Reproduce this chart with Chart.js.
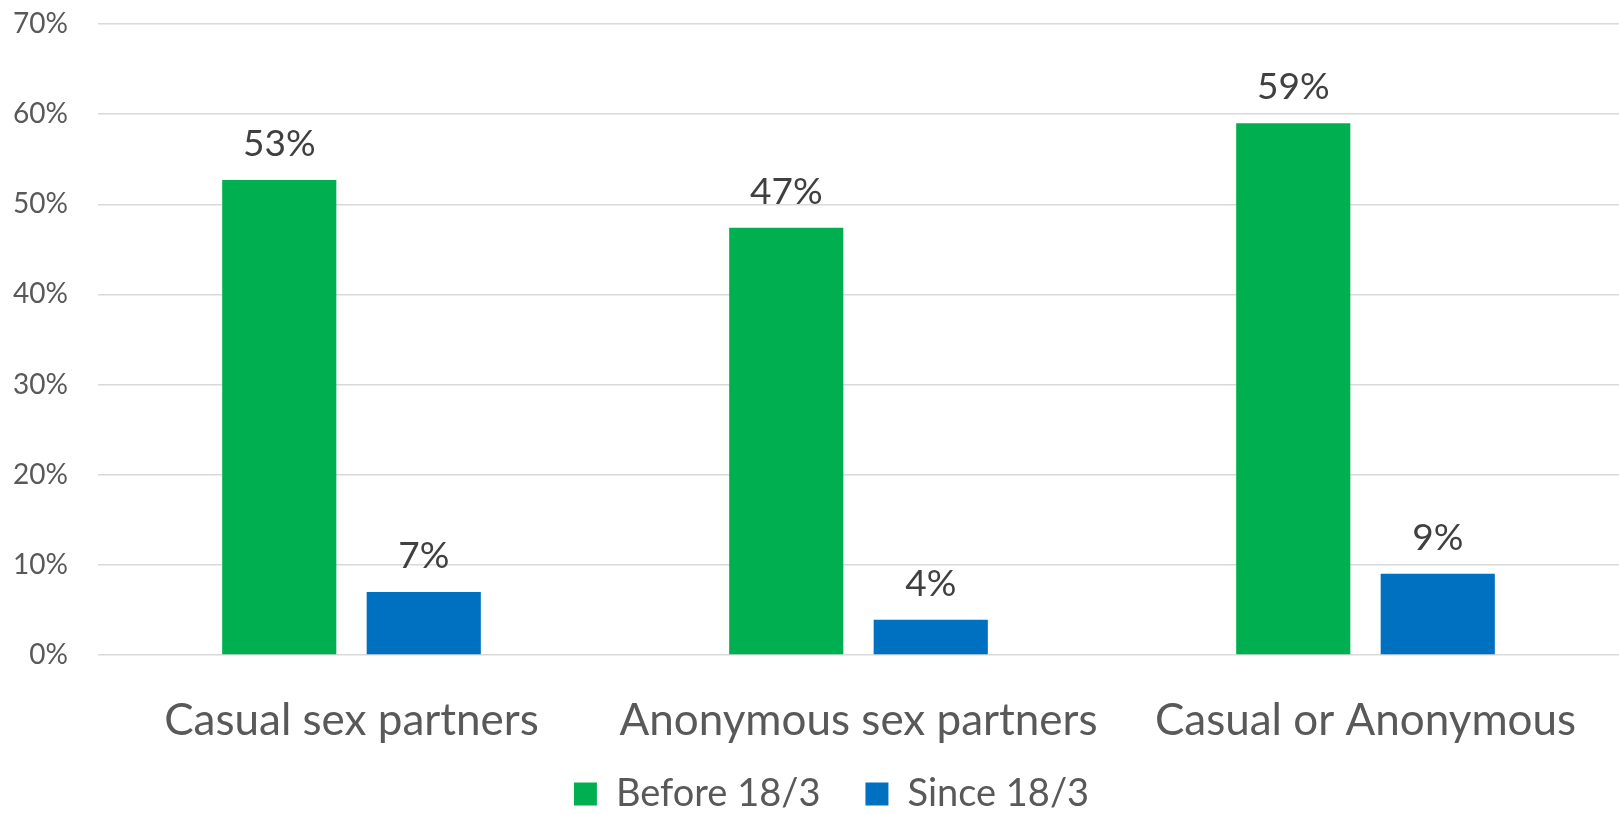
<!DOCTYPE html>
<html lang="en">
  <head>
    <meta charset="UTF-8" />
    <title>Casual and anonymous sex partners</title>
    <script src="https://cdn.jsdelivr.net/npm/chart.js"></script>
    <style>
      body { margin: 0; background: #fff; }
      #wrap { width: 1619px; height: 814px; position: relative; }
    </style>
  </head>
  <body>
    <div id="wrap"><canvas id="myChart"></canvas></div>

    <script>
      const categories = ["Casual sex partners", "Anonymous sex partners", "Casual or Anonymous"];
      const seriesNames = ["Before 18/3", "Since 18/3"];
      const beforeValues = [52.7, 47.4, 59.0];
      const sinceValues = [7.0, 3.9, 9.0];
      const yTicks = [0, 10, 20, 30, 40, 50, 60, 70];

      const font = "Lato";

      // value labels above each bar, placed from the bar elements
      const barLabels = {
        id: "barLabels",
        afterDatasetsDraw(chart) {
          const ctx = chart.ctx;
          ctx.save();
          ctx.font = "37px " + font;
          ctx.fillStyle = "#404040";
          ctx.textAlign = "center";
          ctx.textBaseline = "alphabetic";
          chart.data.datasets.forEach((ds, i) => {
            chart.getDatasetMeta(i).data.forEach((bar, j) => {
              ctx.fillText(Math.round(ds.data[j]) + "%", bar.x, bar.y - 24);
            });
          });
          ctx.restore();
        },
      };

      // legend padding gives the gap between items; keep its box short
      // for the layout, then give it back its room at the bottom
      const legendPlace = {
        id: "legendPlace",
        beforeLayout(chart) {
          const lg = chart.legend;
          if (lg && !lg._patched) {
            const fit = lg.fit.bind(lg);
            lg.fit = function () {
              fit();
              this.height = 65;
            };
            lg._patched = true;
          }
        },
        afterLayout(chart) {
          const lg = chart.legend;
          lg.top = 730;
          lg.bottom = chart.height;
          lg.height = lg.bottom - lg.top;
          lg.left += 44;
        },
      };

      const ctx = document.getElementById("myChart").getContext("2d");
      new Chart(ctx, {
        type: "bar",
        data: {
          labels: categories,
          datasets: [
            {
              label: seriesNames[0],
              data: beforeValues,
              backgroundColor: "#00B050",
              categoryPercentage: 0.57,
              barPercentage: 0.79,
            },
            {
              label: seriesNames[1],
              data: sinceValues,
              backgroundColor: "#0070C0",
              categoryPercentage: 0.57,
              barPercentage: 0.79,
            },
          ],
        },
        options: {
          responsive: true,
          maintainAspectRatio: false,
          animation: false,
          layout: { padding: 0 },
          plugins: {
            tooltip: { enabled: false },
            legend: {
              position: "bottom",
              labels: {
                font: { family: font, size: 38 },
                color: "#595959",
                boxWidth: 23,
                boxHeight: 23,
                padding: 45,
              },
            },
          },
          scales: {
            x: {
              grid: { display: false, drawTicks: false },
              border: { display: false },
              ticks: {
                font: { family: font, size: 44 },
                color: "#595959",
                padding: 39,
              },
              afterFit(scale) {
                scale.height = 94;
              },
            },
            y: {
              min: 0,
              max: 70,
              afterBuildTicks(scale) {
                scale.ticks = yTicks.map((v) => ({ value: v }));
              },
              grid: { color: "#D9D9D9", lineWidth: 1.5, drawTicks: false },
              border: { display: false },
              ticks: {
                font: { family: font, size: 28 },
                color: "#595959",
                padding: 30,
                callback: (v) => v + "%",
              },
              afterFit(scale) {
                scale.width = 98;
                scale.paddingTop = 24;
                scale.paddingBottom = 17;
              },
            },
          },
        },
        plugins: [barLabels, legendPlace],
      });
    </script>
  </body>
</html>
